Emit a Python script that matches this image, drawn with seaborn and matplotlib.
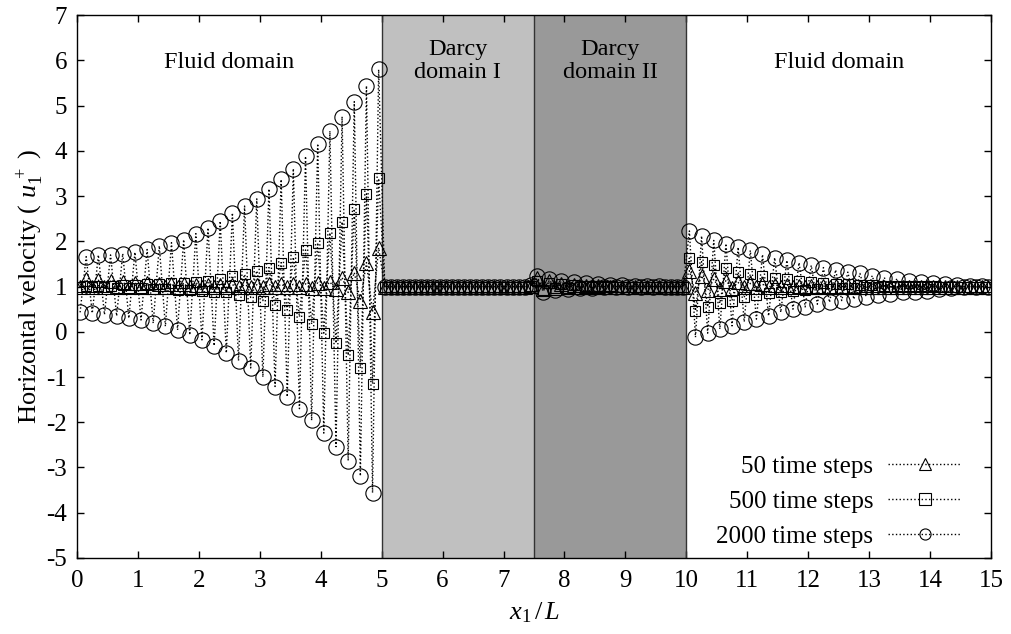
import numpy as np
import pandas as pd
import matplotlib
matplotlib.use("Agg")
import matplotlib.pyplot as plt
import seaborn as sns

# ---------------- data ----------------
# grid of cell centres, 0.1 apart
x_left = np.round(np.arange(0.05, 5.0, 0.1), 2)
x_darcy = np.round(np.arange(5.05, 10.0, 0.1), 2)
x_right = np.round(np.arange(10.05, 15.0, 0.1), 2)

# 2000 time steps (circles)
c2000_left_low = [0.43, 0.41, 0.38, 0.35, 0.30, 0.26, 0.19, 0.12, 0.04, -0.07,
                  -0.18, -0.31, -0.47, -0.64, -0.80, -1.00, -1.21, -1.44, -1.70, -1.96,
                  -2.24, -2.54, -2.85, -3.19, -3.56]
c2000_left_up = [1.66, 1.70, 1.70, 1.73, 1.76, 1.82, 1.90, 1.97, 2.04, 2.17,
                 2.30, 2.45, 2.63, 2.78, 2.94, 3.16, 3.37, 3.61, 3.88, 4.16,
                 4.44, 4.76, 5.09, 5.44, 5.80]
c2000_darcy = [1.00, 1.00, 1.00, 1.00, 1.00, 1.00, 1.00, 1.00, 1.00, 1.00,
               1.00, 1.00, 1.00, 1.00, 1.00, 1.00, 1.00, 1.00, 1.00, 1.00,
               1.00, 1.00, 1.00, 0.99, 1.04, 1.23, 0.89, 1.16, 0.93, 1.12,
               0.95, 1.09, 0.96, 1.07, 0.97, 1.05, 0.98, 1.04, 0.99, 1.03,
               0.99, 1.02, 1.00, 1.01, 1.00, 1.01, 1.00, 1.00, 1.00, 1.00]
c2000_right_up = [2.23, 2.12, 2.02, 1.95, 1.87, 1.80, 1.71, 1.64, 1.58, 1.53,
                  1.47, 1.42, 1.37, 1.32, 1.29, 1.24, 1.20, 1.16, 1.13, 1.10,
                  1.07, 1.05, 1.03, 1.02, 1.01]
c2000_right_low = [-0.12, -0.03, 0.06, 0.13, 0.22, 0.28, 0.35, 0.43, 0.50, 0.55,
                   0.61, 0.65, 0.69, 0.72, 0.78, 0.81, 0.83, 0.87, 0.89, 0.91,
                   0.94, 0.96, 0.98, 0.99, 1.00]

# 500 time steps (squares)
s500_left_low = [0.99, 0.98, 0.98, 0.97, 0.96, 0.96, 0.95, 0.94, 0.93, 0.92,
                 0.91, 0.88, 0.87, 0.82, 0.76, 0.69, 0.59, 0.48, 0.33, 0.17,
                 -0.03, -0.25, -0.52, -0.80, -1.15]
s500_left_up = [1.01, 1.02, 1.02, 1.03, 1.04, 1.05, 1.06, 1.07, 1.08, 1.10,
                1.12, 1.16, 1.24, 1.27, 1.35, 1.42, 1.53, 1.65, 1.81, 1.97,
                2.19, 2.43, 2.72, 3.05, 3.39]
s500_darcy = [1.00, 1.00, 1.00, 1.00, 1.00, 1.00, 1.00, 1.00, 1.00, 1.00,
              1.00, 1.00, 1.00, 1.00, 1.00, 1.00, 1.00, 1.00, 1.00, 1.00,
              1.00, 1.00, 1.00, 1.00, 1.02, 1.12, 0.93, 1.08, 0.96, 1.05,
              0.97, 1.03, 0.98, 1.02, 0.99, 1.01, 1.00, 1.01, 1.00, 1.00,
              1.00, 1.00, 1.00, 1.00, 1.00, 1.00, 1.00, 1.00, 1.00, 1.00]
s500_right_up = [1.63, 1.55, 1.47, 1.40, 1.32, 1.27, 1.24, 1.20, 1.16, 1.13,
                 1.10, 1.08, 1.06, 1.05, 1.04, 1.03, 1.02, 1.02, 1.01, 1.01,
                 1.01, 1.00, 1.00, 1.00, 1.00]
s500_right_low = [0.46, 0.55, 0.63, 0.69, 0.76, 0.82, 0.85, 0.87, 0.91, 0.93,
                  0.94, 0.95, 0.96, 0.97, 0.98, 0.98, 0.99, 0.99, 0.99, 1.00,
                  1.00, 1.00, 1.00, 1.00, 1.00]

# 50 time steps (triangles)
t50_left_low = [0.98, 0.98, 0.98, 0.98, 0.98, 0.98, 0.98, 0.98, 0.98, 0.98,
                0.98, 0.98, 0.98, 0.98, 0.98, 0.98, 0.98, 0.98, 0.98, 0.97,
                0.97, 0.94, 0.87, 0.69, 0.43]
t50_left_up = [1.16, 1.14, 1.12, 1.10, 1.08, 1.07, 1.06, 1.05, 1.05, 1.04,
               1.04, 1.04, 1.04, 1.04, 1.04, 1.05, 1.05, 1.05, 1.06, 1.08,
               1.10, 1.20, 1.31, 1.53, 1.86]
t50_darcy = [1.00, 1.00, 1.00, 1.00, 1.00, 1.00, 1.00, 1.00, 1.00, 1.00,
             1.00, 1.00, 1.00, 1.00, 1.00, 1.00, 1.00, 1.00, 1.00, 1.00,
             1.00, 1.00, 1.00, 1.00, 1.02, 1.18, 0.95, 1.12, 0.97, 1.06,
             0.98, 1.04, 0.99, 1.02, 1.00, 1.01, 1.00, 1.00, 1.00, 1.00,
             1.00, 1.00, 1.00, 1.00, 1.00, 1.00, 1.00, 1.00, 1.00, 1.00]
t50_right_up = [1.35, 1.24, 1.16, 1.13, 1.09, 1.07, 1.05, 1.04, 1.03, 1.02,
                1.02, 1.01, 1.01, 1.01, 1.00, 1.00, 1.00, 1.00, 1.00, 1.00,
                1.00, 1.00, 1.00, 1.00, 1.00]
t50_right_low = [0.85, 0.92, 0.94, 0.97, 0.98, 0.99, 0.99, 1.00, 1.00, 1.00,
                 1.00, 1.00, 1.00, 1.00, 1.00, 1.00, 1.00, 1.00, 1.00, 1.00,
                 1.00, 1.00, 1.00, 1.00, 1.00]

labels = ["50 time steps", "500 time steps", "2000 time steps"]
x_ticks = list(range(0, 16))
y_ticks = list(range(-5, 8))


def zigzag(first, second):
    out = []
    for a, b in zip(first, second):
        out += [a, b]
    return out


x_all = np.concatenate([x_left, x_darcy, x_right])
series = {
    labels[0]: zigzag(t50_left_low, t50_left_up) + t50_darcy + zigzag(t50_right_up, t50_right_low),
    labels[1]: zigzag(s500_left_low, s500_left_up) + s500_darcy + zigzag(s500_right_up, s500_right_low),
    labels[2]: zigzag(c2000_left_low, c2000_left_up) + c2000_darcy + zigzag(c2000_right_up, c2000_right_low),
}

# ---------------- style ----------------
sns.set_theme(style="ticks")
plt.rcParams["font.family"] = ["Liberation Serif", "DejaVu Serif"]
plt.rcParams["mathtext.fontset"] = "custom"
plt.rcParams["mathtext.rm"] = "Liberation Serif"
plt.rcParams["mathtext.it"] = "Liberation Serif:italic"
plt.rcParams["axes.unicode_minus"] = False
for key in ("text.color", "axes.labelcolor", "xtick.color", "ytick.color",
            "axes.edgecolor"):
    plt.rcParams[key] = "black"

fig = plt.figure(figsize=(10.11, 6.34), dpi=100)
ax = fig.add_axes([0.0762, 0.12, 0.904, 0.856])

ax.axvspan(5, 7.5, color="#c0c0c0", zorder=0, lw=0)
ax.axvspan(7.5, 10, color="#999999", zorder=0, lw=0)
for xv in (5, 7.5, 10):
    ax.axvline(xv, color="#333333", lw=1.0, zorder=1)

styles = {
    labels[0]: dict(marker="^", markersize=10),
    labels[1]: dict(marker="s", markersize=7.5),
    labels[2]: dict(marker="o", markersize=11),
}
for lab in labels:
    df = pd.DataFrame({"x": x_all, "y": series[lab]})
    sns.lineplot(data=df, x="x", y="y", ax=ax, sort=False, errorbar=None,
                 color="black", linestyle=":", linewidth=1.0,
                 markerfacecolor="none", markeredgecolor="black",
                 markeredgewidth=0.8, label=lab, zorder=3, **styles[lab])

ax.set_xlim(0, 15)
ax.set_ylim(-5, 7)
ax.set_xticks(x_ticks)
ax.set_yticks(y_ticks)
ax.tick_params(direction="in", top=True, right=True, length=5, width=1,
               labelsize=18, colors="black")
ax.tick_params(axis="x", pad=9)
ax.tick_params(axis="y", pad=7)
for s in ax.spines.values():
    s.set_color("black")
    s.set_linewidth(1.0)

ax.set_xlabel(r"$x_1\,/\,L$", fontsize=19, labelpad=6)
ax.set_ylabel(r"Horizontal velocity ( $u_1^{\,+}$ )", fontsize=19, labelpad=1)

ax.text(2.5, 5.96, "Fluid domain", ha="center", va="center", fontsize=17.5)
ax.text(12.5, 5.96, "Fluid domain", ha="center", va="center", fontsize=17.5)
ax.text(6.25, 5.98, "Darcy\ndomain I", ha="center", va="center", fontsize=17.5,
        linespacing=1.12)
ax.text(8.75, 5.98, "Darcy\ndomain II", ha="center", va="center", fontsize=17.5,
        linespacing=1.12)

leg = ax.legend(loc="lower right", bbox_to_anchor=(0.978, 0.0),
                frameon=False, markerfirst=False,
                fontsize=18, handlelength=2.9, borderaxespad=0.0,
                labelspacing=0.5, handletextpad=0.6)
for h in leg.legend_handles:
    h.set_markersize(8)

fig.savefig("out.png", dpi=100)
